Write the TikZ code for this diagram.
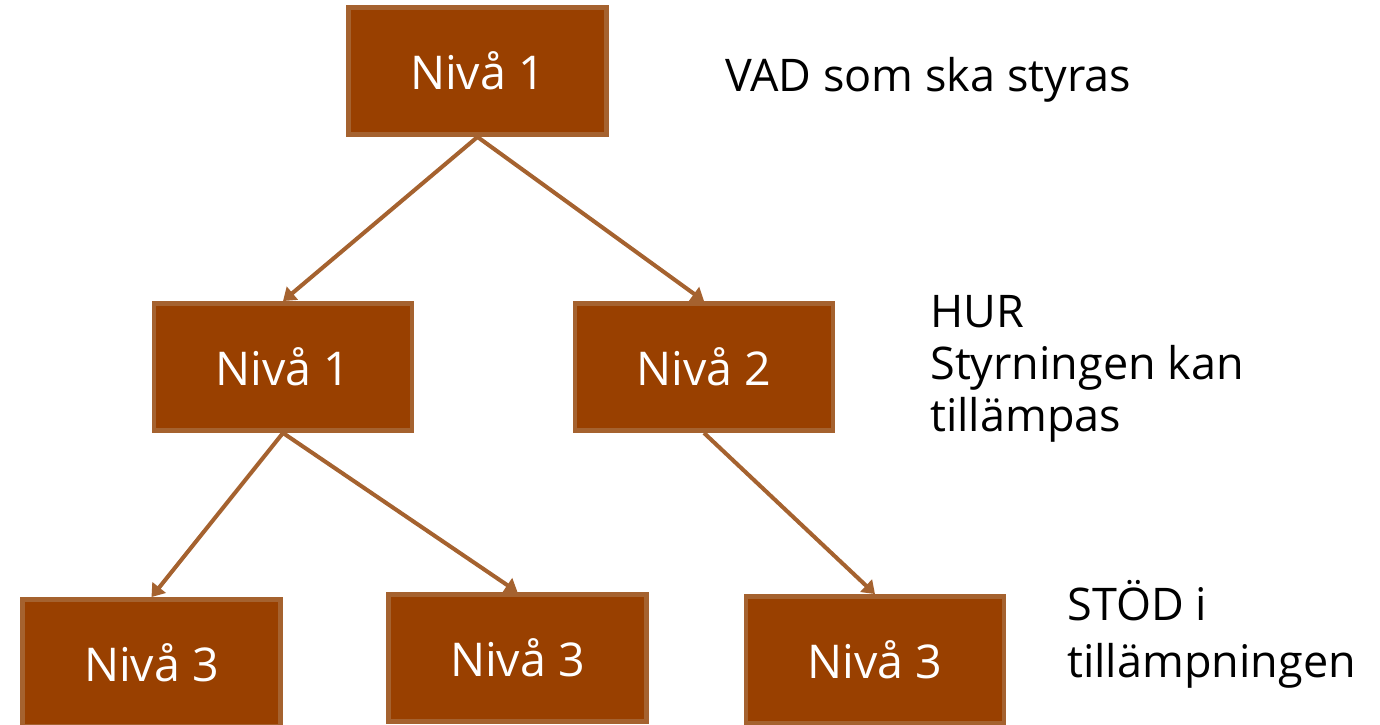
\documentclass[tikz,border=0pt]{standalone}
\usepackage{fontspec}
\setmainfont{Open Sans}
\usetikzlibrary{arrows.meta}
\definecolor{brun}{HTML}{994000}
\definecolor{kant}{HTML}{A5622F}
\tikzset{
  niva/.style={draw=kant, fill=brun, line width=2.8pt, minimum width=5.16cm, minimum height=2.54cm, text=white, font=\fontsize{26.5}{30}\selectfont},
  pil/.style={draw=kant, line width=2.3pt, -{Triangle[length=7pt,width=9.5pt]}},
  etikett/.style={align=left, inner sep=0pt, font=\fontsize{25.6}{29.5}\selectfont}
}

\begin{document}
\begin{tikzpicture}[x=0.02cm, y=-0.02cm]
	\useasboundingbox (0,0) rectangle (1380,724);
	\clip (0,0) rectangle (1380,724);
	% rutor
	\node[niva] (topp) at (477.5,71) {Nivå 1};
	\node[niva] (mitt1) at (283,367) {Nivå 1};
	\node[niva] (mitt2) at (704,367) {Nivå 2};
	\node[niva] (bott1) at (151.5,663) {Nivå 3};
	\node[niva] (bott2) at (517.5,658) {Nivå 3};
	\node[niva] (bott3) at (875,660) {Nivå 3};
	% pilar
	\draw[pil] (topp.south) -- (mitt1.north);
	\draw[pil] (topp.south) -- (mitt2.north);
	\draw[pil] (mitt1.south) -- (bott1.north);
	\draw[pil] (mitt1.south) -- (bott2.north);
	\draw[pil] (mitt2.south) -- (bott3.north);
	% texter till höger
	\node[etikett, anchor=base west] (vad) at (725,91) {VAD som ska styras};
	\node[etikett, anchor=north west] (hur) at (930,295) {HUR\\Styrningen kan\\tillämpas};
	\node[etikett, anchor=north west, font=\fontsize{25.6}{32.5}\selectfont] (stod) at (1067,580) {STÖD i\\tillämpningen};
\end{tikzpicture}
\end{document}
